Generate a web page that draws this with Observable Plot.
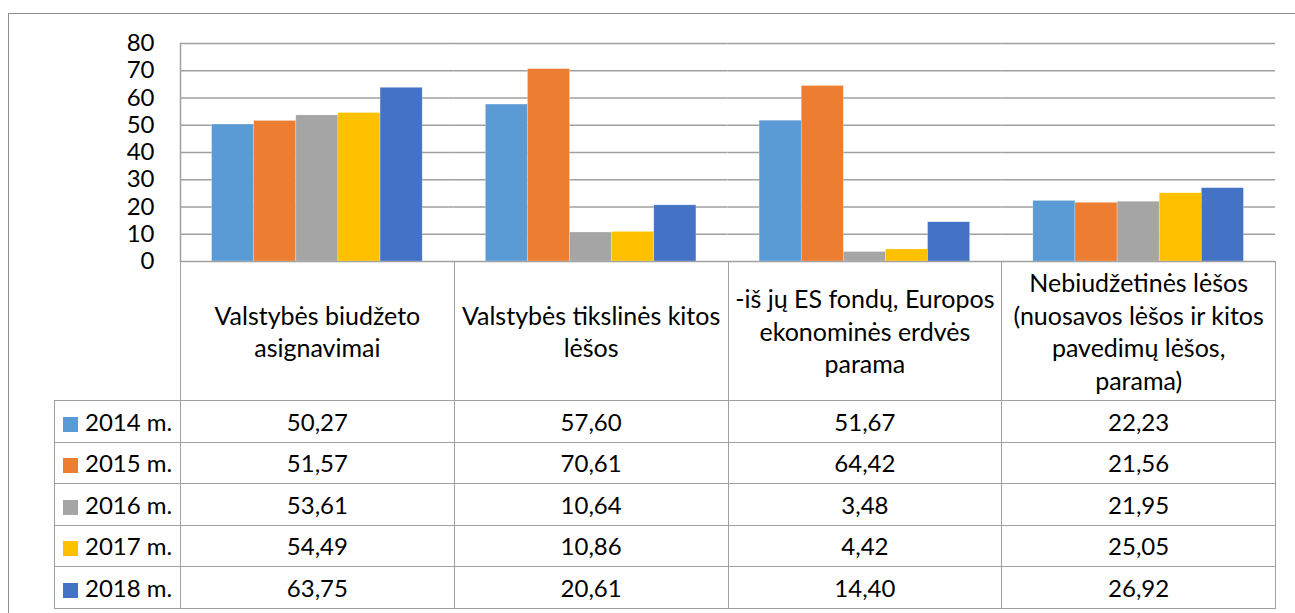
<!DOCTYPE html>
<html>
<head>
<meta charset="utf-8">
<script src="https://cdn.jsdelivr.net/npm/d3@7"></script>
<script src="https://cdn.jsdelivr.net/npm/@observablehq/plot@0.6"></script>
<style>
  html, body { margin: 0; padding: 0; background: #fff; }
  #wrap { position: relative; width: 1295px; height: 613px; overflow: hidden; font-family: Lato, "Open Sans", sans-serif; color: #000; }
  #outer { position: absolute; left: 8px; top: 13px; width: 1400px; height: 700px; border: 1.5px solid #8c8c8c; box-sizing: border-box; }
  #chart { position: absolute; left: 0; top: 0; }
  table { position: absolute; border-collapse: collapse; table-layout: fixed; font-size: 24px; }
  td, th { border: 1.5px solid #a0a0a0; padding: 0; text-align: center; vertical-align: middle; font-weight: normal; white-space: nowrap; }
  th.blank { border-top: none; border-left: none; }
  th.cat { line-height: 32.5px; font-size: 25px; }
  td.leg { text-align: left; padding-left: 8px; }
  .sw { display: inline-block; width: 15px; height: 15px; margin-right: 7px; vertical-align: -1px; }
</style>
</head>
<body>
<div id="wrap"><div id="outer"></div><div id="chart"></div></div>
<script>
const categories = [
  "Valstybės biudžeto asignavimai",
  "Valstybės tikslinės kitos lėšos",
  "-iš jų ES fondų, Europos ekonominės erdvės parama",
  "Nebiudžetinės lėšos (nuosavos lėšos ir kitos pavedimų lėšos, parama)"
];
const categoryLines = [
  ["Valstybės biudžeto", "asignavimai"],
  ["Valstybės tikslinės kitos", "lėšos"],
  ["-iš jų ES fondų, Europos", "ekonominės erdvės", "parama"],
  ["Nebiudžetinės lėšos", "(nuosavos lėšos ir kitos", "pavedimų lėšos,", "parama)"]
];
const years = ["2014 m.", "2015 m.", "2016 m.", "2017 m.", "2018 m."];
const colors = ["#5B9BD5", "#ED7D31", "#A5A5A5", "#FFC000", "#4472C4"];
const v2014 = [50.27, 57.60, 51.67, 22.23];
const v2015 = [51.57, 70.61, 64.42, 21.56];
const v2016 = [53.61, 10.64, 3.48, 21.95];
const v2017 = [54.49, 10.86, 4.42, 25.05];
const v2018 = [63.75, 20.61, 14.40, 26.92];
const yTicks = [0, 10, 20, 30, 40, 50, 60, 70, 80];

const series = [v2014, v2015, v2016, v2017, v2018];
const data = years.flatMap((yr, i) => categories.map((c, j) => ({category: c, year: yr, value: series[i][j]})));

const chart = Plot.plot({
  width: 1295,
  height: 290,
  marginLeft: 180,
  marginRight: 20,
  marginTop: 43,
  marginBottom: 29,
  style: {fontFamily: "Lato, 'Open Sans', sans-serif", fontSize: "24px", color: "#000", background: "transparent"},
  fx: {domain: categories, padding: 0, axis: null, round: false},
  x: {domain: years, paddingInner: 0, paddingOuter: 0.75, axis: null, round: false},
  y: {domain: [0, 80], ticks: yTicks},
  color: {domain: years, range: colors},
  marks: [
    Plot.gridY(yTicks, {stroke: "#a0a0a0", strokeOpacity: 1, strokeWidth: 1.5}),
    Plot.frame({anchor: "left", facetAnchor: "left", stroke: "#a0a0a0", strokeWidth: 1.5}),
    Plot.barY(data, {fx: "category", x: "year", y: "value", fill: "year", stroke: "#fff", strokeOpacity: 0.5, strokeWidth: 0.5}),
    Plot.axisY(yTicks, {tickSize: 0, tickPadding: 26, fontSize: 24, label: null, tickFormat: d => String(d), fill: "#000"})
  ]
});
document.getElementById("chart").appendChild(chart);

// table aligned with the fx and y scales
const fx = chart.scale("fx");
const colW = fx.bandwidth;
const left0 = fx.apply(categories[0]);
const top0 = chart.scale("y").apply(0);
const legW = 126;

const table = document.createElement("table");
table.style.left = (left0 - legW) + "px";
table.style.top = top0 + "px";
table.style.width = (legW + colW * categories.length) + "px";
const cg = document.createElement("colgroup");
const c0 = document.createElement("col"); c0.style.width = legW + "px"; cg.appendChild(c0);
categories.forEach(() => { const c = document.createElement("col"); c.style.width = colW + "px"; cg.appendChild(c); });
table.appendChild(cg);

const hr = document.createElement("tr");
hr.style.height = "139px";
const blank = document.createElement("th"); blank.className = "blank"; hr.appendChild(blank);
categoryLines.forEach(lines => {
  const th = document.createElement("th"); th.className = "cat";
  th.innerHTML = lines.join("<br>");
  hr.appendChild(th);
});
table.appendChild(hr);

years.forEach((yr, i) => {
  const tr = document.createElement("tr");
  tr.style.height = "41.5px";
  const td = document.createElement("td"); td.className = "leg";
  td.innerHTML = `<span class="sw" style="background:${colors[i]}"></span>${yr}`;
  tr.appendChild(td);
  series[i].forEach(v => {
    const c = document.createElement("td");
    c.textContent = v.toFixed(2).replace(".", ",");
    tr.appendChild(c);
  });
  table.appendChild(tr);
});
document.getElementById("wrap").appendChild(table);
</script>
</body>
</html>
